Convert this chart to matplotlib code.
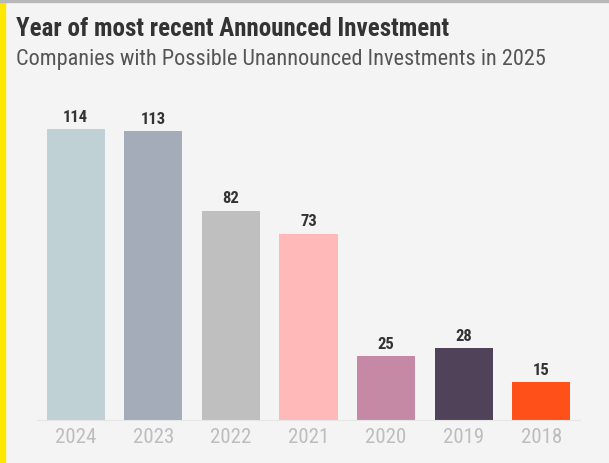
import matplotlib.pyplot as plt
from matplotlib import font_manager
from matplotlib.patches import Rectangle

# data
years = ['2024', '2023', '2022', '2021', '2020', '2019', '2018']
counts = [114, 113, 82, 73, 25, 28, 15]
bar_colors = ['#bfd1d5', '#a4abb9', '#bfbfbf', '#ffb9b9', '#c589a6', '#4f4259', '#ff5019']

# pick a narrow font if one is around
names = {f.name for f in font_manager.fontManager.ttflist}
fam = [n for n in ['Roboto Condensed', 'Liberation Sans Narrow', 'Roboto', 'DejaVu Sans'] if n in names]
plt.rcParams['font.family'] = fam

W, H = 609, 463
fig = plt.figure(figsize=(W / 100, H / 100), dpi=100)
fig.patch.set_facecolor('#f4f4f4')

# left accent strip and top rule
fig.patches.append(Rectangle((0, 0), 5 / W, 1, transform=fig.transFigure,
                             color='#ffe800', zorder=5))
fig.patches.append(Rectangle((0, 1 - 2 / H), 1, 2 / H, transform=fig.transFigure,
                             color='#b8b8b8', zorder=5))

fig.text(16 / W, 1 - 36 / H, 'Year of most recent Announced Investment',
         fontsize=18, fontweight='bold', color='#333333', va='baseline')
fig.text(16 / W, 1 - 65 / H, 'Companies with Possible Unannounced Investments in 2025',
         fontsize=16, color='#555555', va='baseline')

ax = fig.add_axes([37 / W, 1 - 420 / H, (580 - 37) / W, (420 - 100) / H])
ax.set_facecolor('#f4f4f4')
x = range(len(years))
bars = ax.bar(x, counts, width=0.75, color=bar_colors)
for b, v in zip(bars, counts):
    ax.annotate(str(v), (b.get_x() + b.get_width() / 2, v), xytext=(0, 3),
                textcoords='offset points', ha='center', va='bottom',
                fontsize=12, fontweight='bold', color='#333333')

ax.set_xlim(-0.5, 6.5)
ax.set_ylim(0, 125.3)
ax.set_xticks(list(x))
ax.set_xticklabels(years, fontsize=15, color='#bdbdbd')
ax.tick_params(axis='x', length=0, pad=6)
ax.set_yticks([])
for s in ['top', 'right', 'left']:
    ax.spines[s].set_visible(False)
ax.spines['bottom'].set_color('#e6e6e6')

plt.savefig('out.png', dpi=100, facecolor=fig.get_facecolor())
